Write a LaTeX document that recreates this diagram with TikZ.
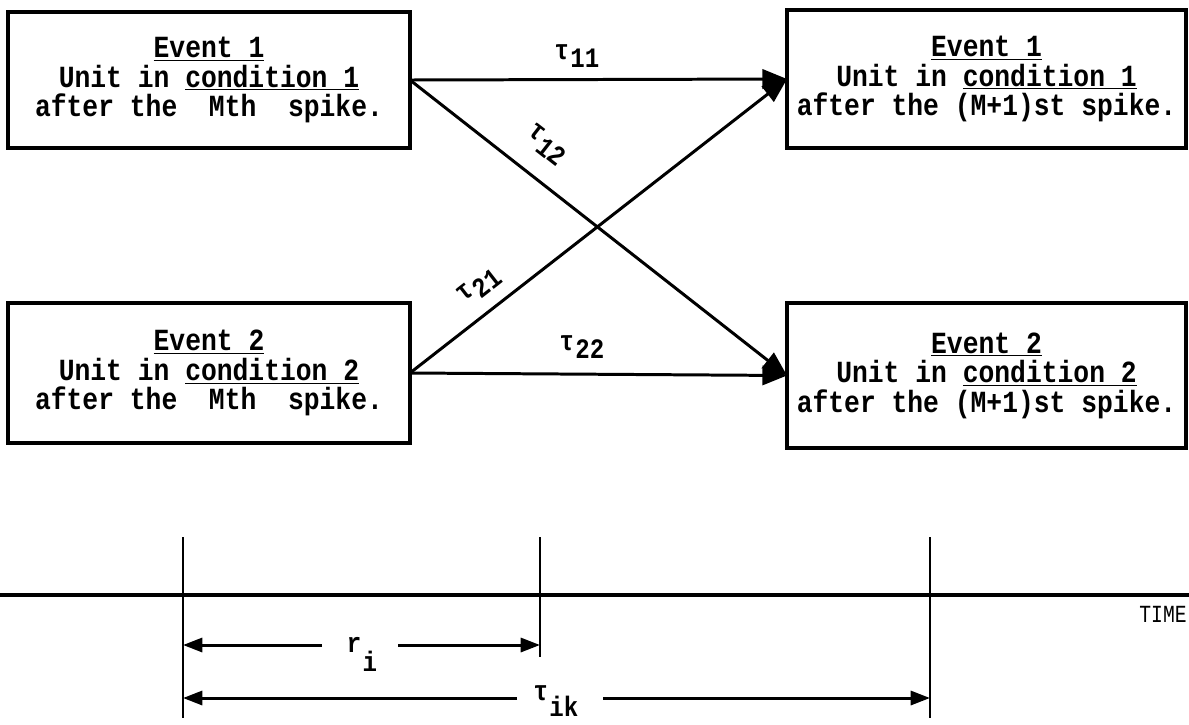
\documentclass[tikz,border=0pt]{standalone}
\usepackage{fontspec}
\setmainfont{Liberation Mono}
\setmonofont{Liberation Mono}
\newfontfamily\boxfont[FakeStretch=0.857]{Liberation Mono}
\newfontfamily\timefont[FakeStretch=0.8]{Liberation Mono}
\usetikzlibrary{arrows.meta}
\newcommand{\lowsub}[2][0.55ex]{\kern0.8pt\raisebox{-#1}{#2}}
\begin{document}
\begin{tikzpicture}[x=0.02cm,y=-0.02cm,
  box/.style={draw, line width=2.4pt, inner sep=0pt, outer sep=0pt, align=center,
    font=\boxfont\fontsize{17.5}{16.8}\selectfont\bfseries},
  link/.style={line width=1.7pt, -{Triangle[length=14pt,width=11pt]}},
  lbl/.style={font=\boxfont\fontsize{16}{16}\selectfont\bfseries, inner sep=0pt},
  tickline/.style={line width=1pt},
  dimline/.style={line width=1.7pt, -{Triangle[length=11pt,width=8pt]}},
  axis/.style={line width=2.4pt},
]
\useasboundingbox (0,0) rectangle (1189,724);

% boxes
\node[box, minimum width=8.04cm, minimum height=2.72cm] (tl) at (209,80)
  {\underline{Event 1}\\Unit in \underline{condition 1}\\after the \ Mth \ spike.};
\node[box, minimum width=7.98cm, minimum height=2.76cm] (tr) at (986.5,79)
  {\underline{Event 1}\\Unit in \underline{condition 1}\\after the (M+1)st spike.};
\node[box, minimum width=8.04cm, minimum height=2.80cm] (bl) at (209,373)
  {\underline{Event 2}\\Unit in \underline{condition 2}\\after the \ Mth \ spike.};
\node[box, minimum width=7.98cm, minimum height=2.90cm] (br) at (986.5,375.5)
  {\underline{Event 2}\\Unit in \underline{condition 2}\\after the (M+1)st spike.};

% connectors
\draw[link] (tl.east) -- (tr.west);
\draw[link] (tl.east) -- (br.west);
\draw[link] (bl.east) -- (tr.west);
\draw[link] (bl.east) -- (br.west);

% connector labels
\node[lbl] (t11) at (577,56) {τ\lowsub{11}};
\node[lbl, rotate=-38] (t12) at (546,145) {τ\lowsub{12}};
\node[lbl, rotate=38] (t21) at (479,286) {τ\lowsub{21}};
\node[lbl] (t22) at (582,347) {τ\lowsub{22}};

% time axis
\coordinate (ax0) at (0,595);
\coordinate (ax1) at (1189,595);
\draw[axis] (ax0) -- (ax1);
\node[font=\timefont\fontsize{14}{14}\selectfont, anchor=base east, inner sep=0pt] (time) at (1187,622) {TIME};

% ticks
\coordinate (ta) at (183,537); \coordinate (tab) at (183,718);
\coordinate (tb) at (540,537); \coordinate (tbb) at (540,657);
\coordinate (tc) at (930,537); \coordinate (tcb) at (930,718);
\draw[tickline] (ta) -- (tab);
\draw[tickline] (tb) -- (tbb);
\draw[tickline] (tc) -- (tcb);

% r_i dimension
\coordinate (ra) at (183,645); \coordinate (rb) at (540,645);
\coordinate (rgl) at (322,645); \coordinate (rgr) at (398,645);
\draw[dimline] (rgl) -- (ra);
\draw[dimline] (rgr) -- (rb);
\node[lbl, anchor=base] (ri) at (362,652) {r\lowsub[1.3ex]{i}};

% tau_ik dimension
\coordinate (ka) at (183,698); \coordinate (kb) at (930,698);
\coordinate (kgl) at (517,698); \coordinate (kgr) at (603,698);
\draw[dimline] (kgl) -- (ka);
\draw[dimline] (kgr) -- (kb);
\node[lbl, anchor=base] (tik) at (556,700) {τ\lowsub[1.1ex]{ik}};
\end{tikzpicture}
\end{document}
